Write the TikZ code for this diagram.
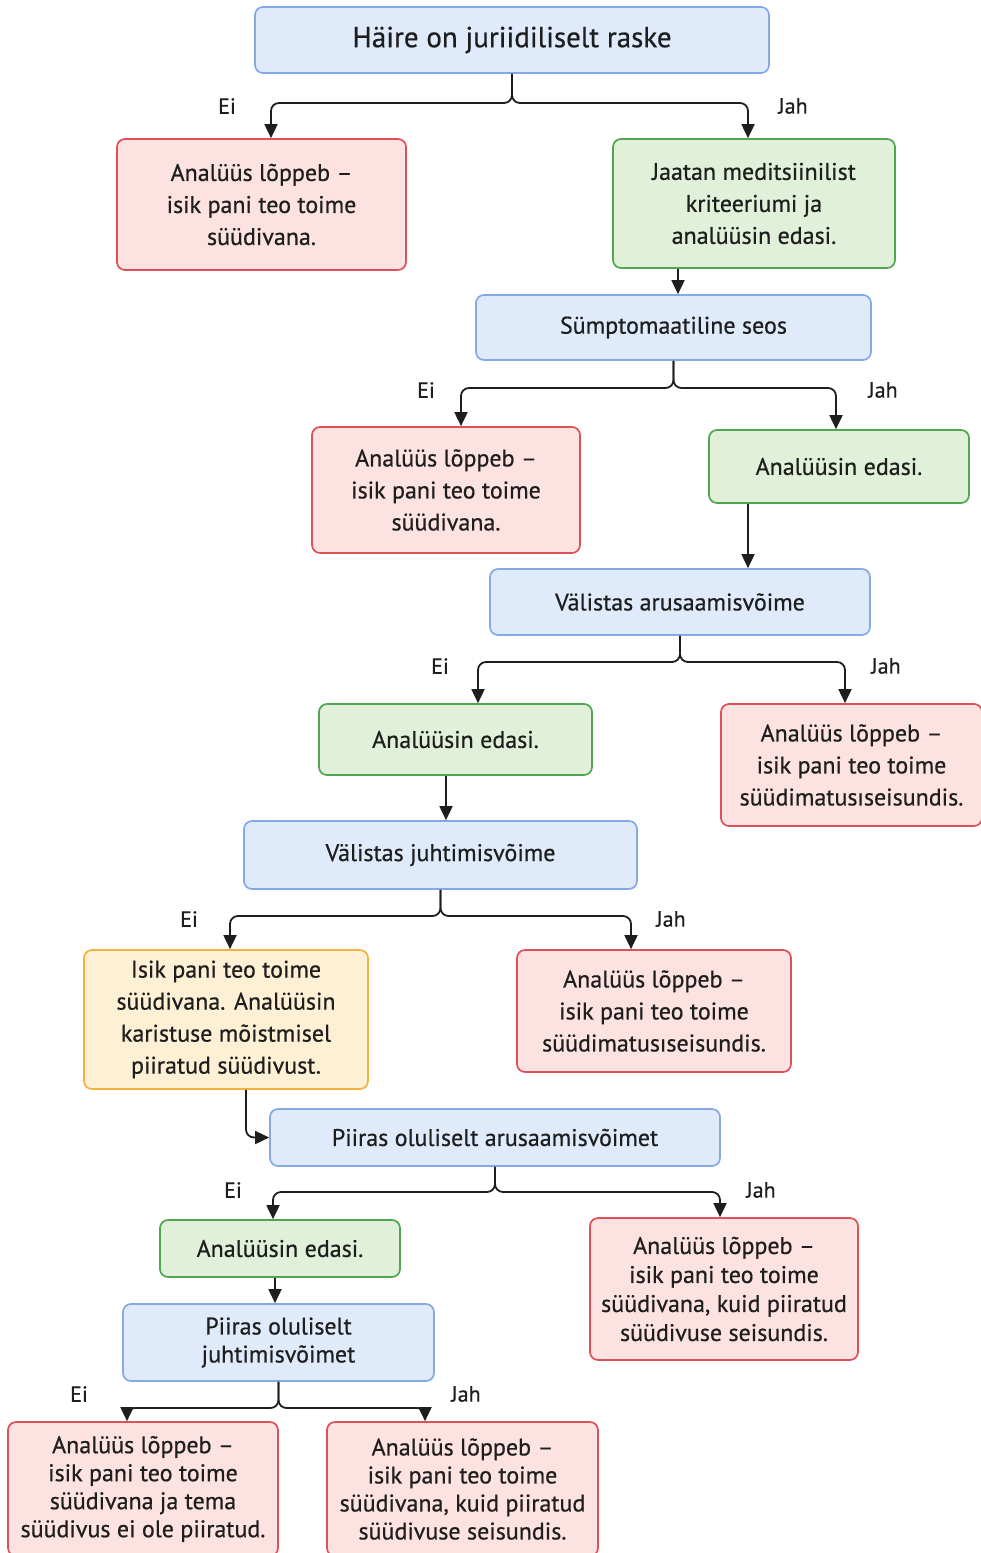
\documentclass[tikz,border=0pt]{standalone}
\usepackage{fontspec}
\setmainfont{PT Sans}[FakeBold=0.6]
\usepackage{tikz}
\usetikzlibrary{calc,positioning,arrows.meta}
\definecolor{bluefill}{HTML}{DFEBFB}
\definecolor{blueline}{HTML}{86A9E6}
\definecolor{redfill}{HTML}{FDE2E2}
\definecolor{redline}{HTML}{E0505A}
\definecolor{greenfill}{HTML}{E0F0D9}
\definecolor{greenline}{HTML}{50A653}
\definecolor{orangefill}{HTML}{FEF0D4}
\definecolor{orangeline}{HTML}{F2B140}
\definecolor{ink}{HTML}{1E1E1E}
\tikzset{box/.style={draw,rounded corners=8pt,line width=1.7pt,align=center,inner sep=0pt,text=ink,
font=\fontsize{24}{32}\selectfont},
qbox/.style={box,draw=blueline,fill=bluefill},
endbox/.style={box,draw=redline,fill=redfill},
gobox/.style={box,draw=greenline,fill=greenfill},
limbox/.style={box,draw=orangeline,fill=orangefill},
lbl/.style={text=ink,font=\fontsize{22}{26}\selectfont}}
\tikzstyle{arrow} = [line width=1.8pt,-{Triangle[length=14pt,width=13pt]},rounded corners=8pt,draw=ink]

\begin{document}
\begin{tikzpicture}[x=1pt,y=-1pt]
\useasboundingbox (0,0) rectangle (980,1553);

\node[qbox,minimum width=514,minimum height=66,font=\fontsize{29}{32}\selectfont] (top) at (512,40) {Häire on juriidiliselt raske};
\node[endbox,minimum width=289,minimum height=131] (r1) at (261.5,204.5) {Analüüs lõppeb –\\isik pani teo toime\\süüdivana.};
\node[gobox,minimum width=282,minimum height=129] (g1) at (754,203.5) {Jaatan meditsiinilist\\kriteeriumi ja\\analüüsin edasi.};
\node[qbox,minimum width=395,minimum height=65] (b2) at (673.5,327.5) {Sümptomaatiline seos};
\node[endbox,minimum width=268,minimum height=126] (r2) at (446,490) {Analüüs lõppeb –\\isik pani teo toime\\süüdivana.};
\node[gobox,minimum width=260,minimum height=73] (g2) at (839,466.5) {Analüüsin edasi.};
\node[qbox,minimum width=380,minimum height=66] (b3) at (680,602) {Välistas arusaamisvõime};
\node[gobox,minimum width=273,minimum height=71] (g3) at (455.5,739.5) {Analüüsin edasi.};
\node[endbox,minimum width=261,minimum height=122] (r3) at (851.5,765) {Analüüs lõppeb –\\isik pani teo toime\\süüdimatusıseisundis.};
\node[qbox,minimum width=393,minimum height=68] (b4) at (440.5,855) {Välistas juhtimisvõime};
\node[limbox,minimum width=284,minimum height=139] (o1) at (226,1019.5) {Isik pani teo toime\\süüdivana. Analüüsin\\karistuse mõistmisel\\piiratud süüdivust.};
\node[endbox,minimum width=274,minimum height=122] (r4) at (654,1011) {Analüüs lõppeb –\\isik pani teo toime\\süüdimatusıseisundis.};
\node[qbox,minimum width=450,minimum height=57] (b5) at (495,1137.5) {Piiras oluliselt arusaamisvõimet};
\node[gobox,minimum width=240,minimum height=57] (g4) at (280,1248.5) {Analüüsin edasi.};
\node[endbox,minimum width=268,minimum height=142,font=\fontsize{24}{29}\selectfont] (r5) at (724,1289) {Analüüs lõppeb –\\isik pani teo toime\\süüdivana, kuid piiratud\\süüdivuse seisundis.};
\node[qbox,minimum width=311,minimum height=77,font=\fontsize{24}{28}\selectfont] (b6) at (278.5,1342.5) {Piiras oluliselt\\juhtimisvõimet};
\node[endbox,minimum width=270,minimum height=134,font=\fontsize{24}{28}\selectfont] (r6) at (143,1489) {Analüüs lõppeb –\\isik pani teo toime\\süüdivana ja tema\\süüdivus ei ole piiratud.};
\node[endbox,minimum width=271,minimum height=134,font=\fontsize{24}{28}\selectfont] (r7) at (462.5,1489) {Analüüs lõppeb –\\isik pani teo toime\\süüdivana, kuid piiratud\\süüdivuse seisundis.};

\foreach \src/\y/\l/\lx/\r/\rx in {top/103/r1/271/g1/748, b2/388/r2/461/g2/836, b3/662/g3/478/r3/845,
  b4/916/o1/230/r4/631, b5/1192/g4/273/r5/720, b6/1408/r6/127/r7/425} {
  \draw[arrow] (\src.south) -- (\src.south |- 0,\y) -| (\l.north -| \lx,0);
  \draw[arrow] (\src.south) -- (\src.south |- 0,\y) -| (\r.north -| \rx,0);
}

\draw[arrow] (g1.south -| 678,0) -- (b2.north -| 678,0);
\draw[arrow] (g2.south -| 748,0) -- (b3.north -| 748,0);
\draw[arrow] (g3.south -| 446,0) -- (b4.north -| 446,0);
\draw[arrow] (o1.south -| 246,0) |- (b5.west);
\draw[arrow] (g4.south -| 275,0) -- (b6.north -| 275,0);

\node[lbl] (ei1) at (227,106) {Ei};
\node[lbl] (jah1) at (793,106) {Jah};
\node[lbl] (ei2) at (426,390) {Ei};
\node[lbl] (jah2) at (883,390) {Jah};
\node[lbl] (ei3) at (440,666) {Ei};
\node[lbl] (jah3) at (886,666) {Jah};
\node[lbl] (ei4) at (189,919) {Ei};
\node[lbl] (jah4) at (671,919) {Jah};
\node[lbl] (ei5) at (233,1190) {Ei};
\node[lbl] (jah5) at (761,1190) {Jah};
\node[lbl] (ei6) at (79,1394) {Ei};
\node[lbl] (jah6) at (466,1394) {Jah};
\end{tikzpicture}
\end{document}
